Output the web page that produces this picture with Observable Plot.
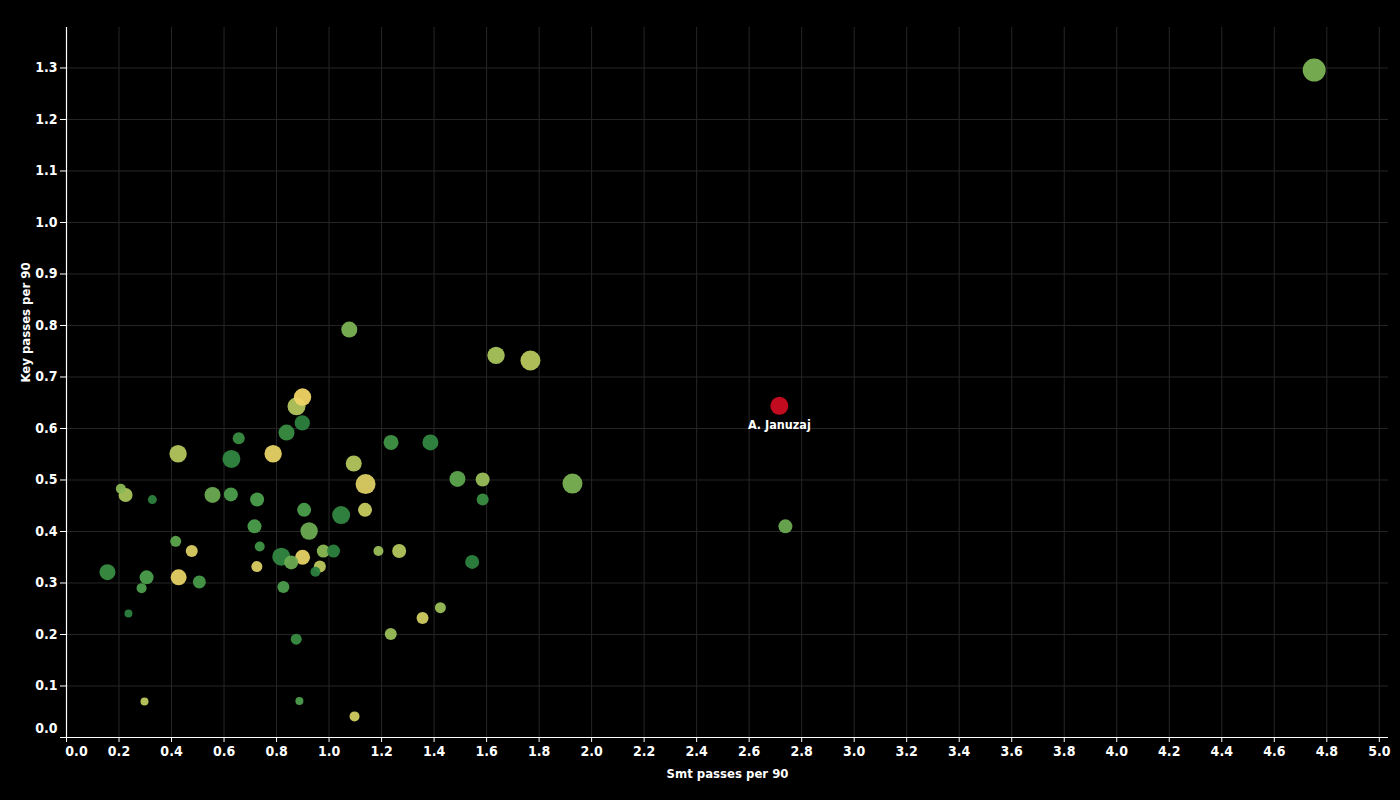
<!DOCTYPE html>
<html>
<head>
<meta charset="utf-8">
<script src="https://cdn.jsdelivr.net/npm/d3@7"></script>
<script src="https://cdn.jsdelivr.net/npm/@observablehq/plot@0.6"></script>
<style>
  html, body { margin: 0; padding: 0; background: #000; }
  #chart { width: 1400px; height: 800px; }
  #chart svg text { font-stretch: condensed; }
</style>
</head>
<body>
<div id="chart"></div>
<script>
// ---- Data ----
const smtPasses = [1.077,0.876,0.899,0.898,0.838,0.656,0.425,0.628,0.787,1.094,0.207,0.225,0.327,0.556,0.626,0.726,0.905,1.046,0.716,0.924,0.416,0.477,0.736,0.818,0.856,0.899,0.978,1.017,1.236,1.386,1.139,1.489,1.585,1.585,1.137,0.948,0.965,1.188,1.267,0.725,1.545,0.826,1.424,1.636,1.767,1.927,0.156,0.305,0.286,0.427,0.506,0.236,0.297,0.875,0.887,1.097,1.235,1.356,2.738,4.752];
const keyPasses = [0.792,0.643,0.661,0.611,0.592,0.581,0.551,0.541,0.551,0.532,0.483,0.471,0.462,0.471,0.472,0.462,0.442,0.432,0.410,0.401,0.381,0.362,0.371,0.351,0.340,0.350,0.362,0.362,0.573,0.573,0.492,0.502,0.501,0.462,0.442,0.322,0.332,0.362,0.362,0.332,0.341,0.292,0.252,0.742,0.732,0.493,0.321,0.311,0.290,0.311,0.302,0.241,0.070,0.191,0.071,0.041,0.201,0.232,0.410,1.296];
const minutesPlayed = [1452,1838,1717,1345,1452,817,1717,1838,1717,1452,567,1111,459,1452,1111,1111,1111,1838,1111,1717,686,817,567,1838,1111,1276,958,958,1276,1452,2268,1452,1111,817,1111,567,817,567,1111,686,1111,817,686,1717,2268,2268,1452,1111,567,1452,958,363,363,686,363,567,817,817,1111,3000];
const colorValue = [0.5,0.7,1.0,0.1,0.2,0.2,0.7,0.15,0.95,0.7,0.55,0.65,0.1,0.45,0.35,0.35,0.35,0.15,0.35,0.45,0.4,0.9,0.25,0.15,0.45,0.95,0.55,0.1,0.25,0.15,0.9,0.4,0.6,0.2,0.8,0.1,0.75,0.6,0.7,0.9,0.1,0.35,0.6,0.65,0.72,0.5,0.2,0.35,0.35,0.95,0.3,0.1,0.75,0.2,0.35,0.85,0.6,0.85,0.45,0.5];

const highlightName = ["A. Januzaj"];
const highlightSmt = [2.715];
const highlightKey = [0.644];
const highlightMinutes = [1838];

const xTicks = [0,0.2,0.4,0.6,0.8,1.0,1.2,1.4,1.6,1.8,2.0,2.2,2.4,2.6,2.8,3.0,3.2,3.4,3.6,3.8,4.0,4.2,4.4,4.6,4.8,5.0];
const yTicks = [0,0.1,0.2,0.3,0.4,0.5,0.6,0.7,0.8,0.9,1.0,1.1,1.2,1.3];
const xLabel = "Smt passes per 90";
const yLabel = "Key passes per 90";

// ---- Build tables ----
const players = smtPasses.map((s, i) => ({smt: s, key: keyPasses[i], minutes: minutesPlayed[i], c: colorValue[i]}));
const highlight = highlightName.map((n, i) => ({name: n, smt: highlightSmt[i], key: highlightKey[i], minutes: highlightMinutes[i]}));

const FONT = '"DejaVu Sans Condensed", "DejaVu Sans", sans-serif';
const fmt = d => d.toFixed(1);
const textStyle = {fill: "#fff", fontWeight: "bold"};

const chart = Plot.plot({
  width: 1400,
  height: 800,
  marginLeft: 66,
  marginRight: 12,
  marginTop: 27,
  marginBottom: 63,
  style: {background: "#000", color: "#fff", fontFamily: FONT},
  x: {domain: [0, 5.035]},
  y: {domain: [0, 1.3786]},
  r: {type: "sqrt", domain: [0, 3000], range: [0, 11.5]},
  color: {type: "linear", domain: [0, 0.35, 0.65, 1], range: ["#1f7538", "#4c9f4c", "#a9c45a", "#f0d466"]},
  marks: [
    Plot.gridX(xTicks, {stroke: "#262626", strokeOpacity: 1, strokeWidth: 1}),
    Plot.gridY(yTicks, {stroke: "#262626", strokeOpacity: 1, strokeWidth: 1}),
    Plot.ruleX([0], {stroke: "#fff", strokeWidth: 1.2}),
    Plot.ruleY([0], {stroke: "#fff", strokeWidth: 1.2}),
    Plot.axisX(xTicks, {tickSize: 5, tickPadding: 4, stroke: "#fff", fill: "#fff", fontSize: 14, fontWeight: "bold",
      tickFormat: d => d === 0 ? "" : fmt(d), label: null}),
    Plot.axisY(yTicks, {tickSize: 6, tickPadding: 3, stroke: "#fff", fill: "#fff", fontSize: 14, fontWeight: "bold",
      tickFormat: d => d === 0 ? "" : fmt(d), label: null}),
    Plot.text([0], {x: d => d, y: 0, text: d => fmt(d), dx: 10, dy: 14, fontSize: 14, ...textStyle}),
    Plot.text([0], {x: 0, y: d => d, text: d => fmt(d), dx: -9, dy: -9, textAnchor: "end", fontSize: 14, ...textStyle}),
    Plot.dot(players, {x: "smt", y: "key", r: "minutes", fill: "c", fillOpacity: 0.95}),
    Plot.dot(highlight, {x: "smt", y: "key", r: "minutes", fill: "#c20b1e"}),
    Plot.text(highlight, {x: "smt", y: "key", text: "name", dy: 19, fontSize: 12.5, ...textStyle}),
    Plot.text([xLabel], {frameAnchor: "bottom", dy: 40, fontSize: 13, ...textStyle}),
    Plot.text([yLabel], {frameAnchor: "left", dx: -41, rotate: -90, fontSize: 13, ...textStyle})
  ]
});
document.getElementById("chart").appendChild(chart);
</script>
</body>
</html>
